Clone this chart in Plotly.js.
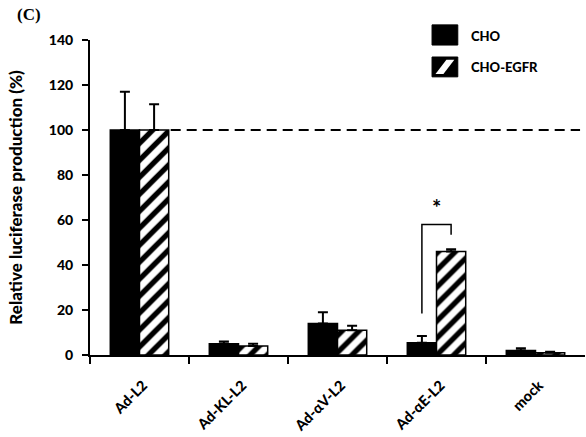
<!DOCTYPE html>
<html>
<head>
<meta charset="utf-8">
<script src="https://cdn.plot.ly/plotly-3.0.1.min.js"></script>
<style>
html,body{margin:0;padding:0;background:#fff;}
#wrap{position:relative;width:586px;height:437px;overflow:hidden;}
#chart{width:586px;height:437px;}
.xlab{position:absolute;left:0;top:0;white-space:nowrap;font-family:Lato,'Open Sans',Arial,sans-serif;font-weight:900;font-size:14.5px;line-height:16px;color:#000;transform-origin:100% 50%;transform:rotate(-45deg);}
</style>
</head>
<body>
<div id="wrap"><div id="chart"></div></div>
<script>
const categories = ["Ad-L2", "Ad-KL-L2", "Ad-\u03b1V-L2", "Ad-\u03b1E-L2", "mock"];
const choValues = [100, 5, 14, 5.5, 2];
const choErrors = [17, 1, 5, 3, 1];
const egfrValues = [100, 4, 11, 46, 1];
const egfrErrors = [11.5, 1, 2, 1, 0.5];
const seriesNames = ["CHO", "CHO-EGFR"];
const referenceLevel = 100;
const yTicks = [0, 20, 40, 60, 80, 100, 120, 140];

const FONT = "Lato, 'Open Sans', Arial, sans-serif";
const bargap = 0.41;
const half = (1 - bargap) / 4; // offset of each bar centre from category centre
const boundaries = categories.map((c, i) => i - 0.5);

const traces = [
  {
    type: "bar", name: seriesNames[0], x: categories, y: choValues,
    marker: {color: "#000", line: {color: "#000", width: 1.5}},
    error_y: {type: "data", array: choErrors, arrayminus: choErrors.map(() => 0), symmetric: false,
              color: "#000", thickness: 2, width: 5},
    showlegend: false
  },
  {
    type: "bar", name: seriesNames[1], x: categories, y: egfrValues,
    marker: {color: "#fff", line: {color: "#000", width: 1.5},
             pattern: {shape: "/", fgcolor: "#000", bgcolor: "#fff", size: 12, solidity: 0.45}},
    error_y: {type: "data", array: egfrErrors, arrayminus: egfrErrors.map(() => 0), symmetric: false,
              color: "#000", thickness: 2, width: 5},
    showlegend: false
  },
  {
    // carrier for the boundary tick axis
    type: "scatter", mode: "none", x: [-0.5, categories.length - 0.5], y: [0, 0],
    xaxis: "x2", yaxis: "y", hoverinfo: "skip", showlegend: false
  }
];

const iE = 3;
const bracketTop = 58;
const shapes = [
  {type: "line", xref: "x", yref: "y", x0: 2 * half + 0.02, x1: categories.length - 0.55, y0: referenceLevel, y1: referenceLevel,
   line: {color: "#000", width: 2.2, dash: "10px,6px"}},
  {type: "path", xref: "x", yref: "y",
   path: `M ${iE - half} ${choValues[iE] + choErrors[iE] + 10} L ${iE - half} ${bracketTop} L ${iE + half} ${bracketTop} L ${iE + half} ${bracketTop - 4.5}`,
   line: {color: "#000", width: 1.5}},
  // custom legend swatches
  {type: "rect", xref: "paper", yref: "paper", x0: 0.691, x1: 0.743, y0: 0.984, y1: 1.048,
   fillcolor: "#000", line: {color: "#000", width: 1}},
  {type: "rect", xref: "paper", yref: "paper", x0: 0.691, x1: 0.743, y0: 0.883, y1: 0.946,
   fillcolor: "#000", line: {color: "#000", width: 1}},
  {type: "path", xref: "paper", yref: "paper",
   path: "M 0.698 0.892 L 0.714 0.892 L 0.736 0.937 L 0.720 0.937 Z",
   fillcolor: "#fff", line: {color: "#fff", width: 0}}
];

const annotations = [
  {text: "(C)", xref: "paper", yref: "paper", x: -0.152, y: 1.045, xanchor: "left", yanchor: "bottom", showarrow: false,
   font: {family: "'Liberation Serif', 'Times New Roman', serif", size: 17, color: "#000", weight: "bold"}},
  {text: "*", xref: "x", yref: "y", x: iE, y: bracketTop + 0.5, yanchor: "bottom", showarrow: false,
   font: {family: FONT, size: 22, color: "#000", weight: "bold"}},
  {text: seriesNames[0], xref: "paper", yref: "paper", x: 0.766, y: 1.013, xanchor: "left", yanchor: "middle", showarrow: false,
   font: {family: FONT, size: 13, color: "#000", weight: 900}},
  {text: seriesNames[1], xref: "paper", yref: "paper", x: 0.766, y: 0.914, xanchor: "left", yanchor: "middle", showarrow: false,
   font: {family: FONT, size: 13, color: "#000", weight: 900}}
];

const layout = {
  width: 586, height: 437,
  margin: {l: 90, r: 1, t: 40, b: 82},
  paper_bgcolor: "#fff", plot_bgcolor: "#fff",
  barmode: "group", bargap: bargap, bargroupgap: 0,
  showlegend: false,
  font: {family: FONT, color: "#000"},
  xaxis: {
    type: "category", range: [-0.5, categories.length - 0.5],
    showline: true, linecolor: "#000", linewidth: 2,
    ticks: "", showticklabels: false,
    showgrid: false, zeroline: false, fixedrange: true
  },
  xaxis2: {
    overlaying: "x", anchor: "y", side: "bottom", range: [-0.5, categories.length - 0.5],
    tickmode: "array", tickvals: boundaries, showticklabels: false,
    ticks: "outside", ticklen: 8, tickwidth: 2, tickcolor: "#000",
    showline: false, showgrid: false, zeroline: false
  },
  yaxis: {
    range: [0, 140], tickvals: yTicks, ticktext: yTicks.map(String),
    showline: true, linecolor: "#000", linewidth: 2,
    ticks: "outside", ticklen: 6, tickwidth: 2, tickcolor: "#000", ticklabelstandoff: 6,
    tickfont: {family: FONT, size: 14, color: "#000", weight: 900},
    showgrid: false, zeroline: false,
    title: {text: "Relative luciferase production (%)", standoff: 22,
            font: {family: FONT, size: 17, color: "#000", weight: 900}}
  },
  shapes: shapes,
  annotations: annotations
};

Plotly.newPlot("chart", traces, layout, {displayModeBar: false, staticPlot: true}).then(gd => {
  // rotated category labels, placed with Plotly's own x scale
  const xa = gd._fullLayout.xaxis, ya = gd._fullLayout.yaxis;
  const wrap = document.getElementById("wrap");
  const baseY = ya._offset + ya._length;
  categories.forEach((c, i) => {
    const el = document.createElement("div");
    el.className = "xlab";
    el.textContent = c;
    wrap.appendChild(el);
    const w = el.offsetWidth, h = el.offsetHeight;
    const ax = xa._offset + xa.l2p(i) + 5;   // right-middle anchor of the rotated label
    const ay = baseY + 28;
    el.style.left = (ax - w) + "px";
    el.style.top = (ay - h / 2) + "px";
  });
});
</script>
</body>
</html>
